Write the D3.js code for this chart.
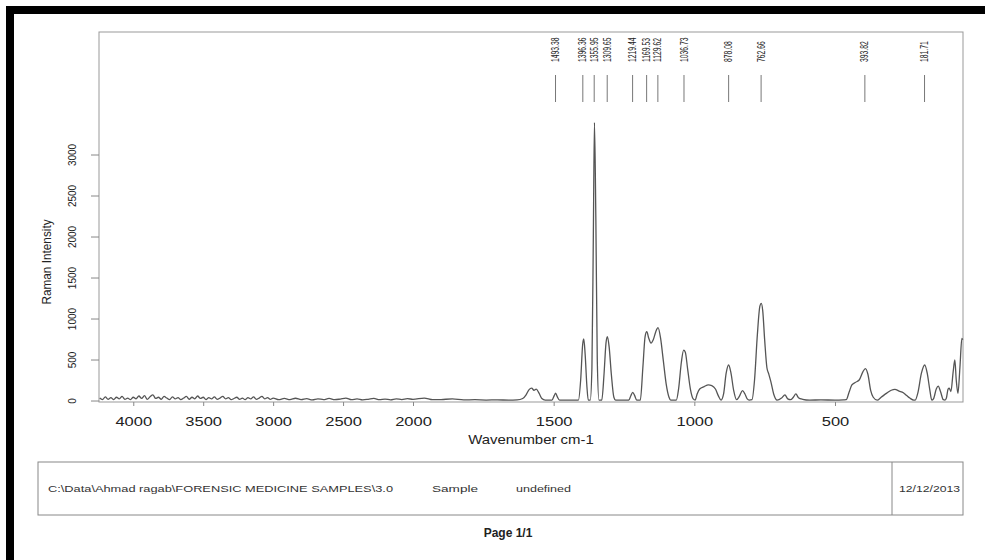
<!DOCTYPE html>
<html>
<head>
<meta charset="utf-8">
<script src="https://cdn.jsdelivr.net/npm/d3@7/dist/d3.min.js"></script>
<style>
  body { margin: 0; background: #fff; }
  text { font-family: "Liberation Sans", Arial, sans-serif; fill: #222; }
</style>
</head>
<body>
<script>
// spectrum: wavenumber (cm-1) and intensity
var wavenumber = [
  4240,4220,4200,4180,4160,4140,4120,4100,4080,4060,4040,4020,4000,3980,3960,3940,3920,3900,
  3880,3860,3840,3820,3800,3780,3760,3740,3720,3700,3680,3660,3640,3620,3600,3580,3560,3540,
  3520,3500,3480,3460,3440,3420,3400,3380,3360,3340,3320,3300,3280,3260,3240,3220,3200,3180,
  3160,3140,3120,3100,3080,3060,3040,3020,3000,2960,2920,2880,2840,2800,2760,2720,2680,2640,
  2600,2560,2520,2480,2440,2400,2360,2320,2280,2240,2200,2160,2120,2080,2040,2000,1960,1930,
  1900,1860,1820,1780,1740,1700,1660,1630,
  1610,1598,1588,1578,1570,1562,1552,1542,1530,1506,1498,1493,1487,1479,
  1412,1404,1397,1393,1388,1382,1377,1370,1364,1359,1355,1350,1345,1339,
  1329,1321,1314,1309,1303,1295,1286,1280,1233,1226,1219,1212,1205,
  1192,1183,1175,1169,1162,1154,1146,1137,1129,1120,1110,1100,1090,1084,
  1064,1056,1046,1038,1032,1024,1014,1004,997,990,981,965,950,938,925,915,905,
  896,887,878,870,860,850,840,829,820,812,805,
  795,786,776,767,762,757,750,742,736,728,718,706,
  690,678,668,658,648,639,630,615,590,550,500,470,
  460,450,440,428,414,401,392,383,373,364,350,
  336,316,300,287,272,257,245,234,220,
  215,205,193,181,172,163,156,150,140,133,125,115,109,
  104,98,94,88,80,74,69,63,56,49,46
];
var intensity = [
  30,10,45,15,35,10,40,20,50,15,30,10,40,20,55,25,60,15,
  45,70,25,40,15,50,30,10,45,20,35,10,30,50,15,40,20,55,
  25,40,10,35,20,45,15,30,50,20,35,10,25,40,15,30,10,35,
  20,45,15,30,50,20,35,15,30,10,25,12,28,10,22,8,20,12,
  25,10,18,30,10,20,8,15,25,10,18,8,20,12,22,15,30,10,
  12,20,8,10,6,8,5,8,
  25,70,130,150,125,140,90,25,5,5,60,90,45,5,
  5,250,680,750,560,180,5,5,400,2000,3390,2200,500,5,
  5,320,700,778,660,320,40,5,5,55,100,60,5,
  5,400,780,840,760,700,740,840,888,760,480,200,40,5,
  5,140,470,615,590,390,140,20,5,80,140,170,190,182,140,60,5,
  80,330,433,340,120,10,50,120,80,20,5,
  10,250,800,1150,1185,1100,740,400,330,230,80,5,
  30,70,20,10,40,80,35,15,5,8,5,8,
  10,100,190,220,250,350,390,320,120,40,5,
  40,90,125,135,115,95,60,30,5,
  5,100,330,433,330,130,5,20,140,175,110,10,5,
  30,140,150,110,350,494,250,88,400,758,740
];

var xTicks = [4000, 3500, 3000, 2500, 2000, 1500, 1000, 500];
var yTicks = [0, 500, 1000, 1500, 2000, 2500, 3000];
var peakLabels = ["1493.38", "1396.36", "1355.95", "1309.65", "1219.44", "1169.53",
                  "1129.62", "1036.73", "878.08", "762.66", "393.82", "181.71"];

var footerPath = "C:\\Data\\Ahmad ragab\\FORENSIC MEDICINE SAMPLES\\3.0";
var footerType = "Sample";
var footerName = "undefined";
var footerDate = "12/12/2013";
var pageText = "Page 1/1";

var W = 985, H = 560;
var box = {left: 99, right: 963, top: 32, bottom: 402};

var svg = d3.select("body").append("svg")
    .attr("width", W)
    .attr("height", H);

svg.append("rect").attr("width", W).attr("height", H).attr("fill", "#fff");

// black scan border (top and left)
svg.append("rect").attr("x", 6).attr("y", 6).attr("width", W - 6).attr("height", 8).attr("fill", "#000");
svg.append("rect").attr("x", 6).attr("y", 6).attr("width", 8).attr("height", H - 6).attr("fill", "#000");

// the software squeezes the range above 2000 cm-1 to half scale
var x = d3.scaleLinear()
    .domain([4245, 2000, 45])
    .range([box.left, 413, box.right]);

var y = d3.scaleLinear()
    .domain([-18, 4494])
    .range([box.bottom, box.top]);

var data = wavenumber.map(function(w, i) { return {w: w, v: intensity[i]}; });

// plot frame
svg.append("rect")
    .attr("x", box.left).attr("y", box.top)
    .attr("width", box.right - box.left).attr("height", box.bottom - box.top)
    .attr("fill", "none").attr("stroke", "#999").attr("stroke-width", 1);

// x axis
var xAxis = d3.axisBottom(x).tickValues(xTicks).tickSize(4).tickSizeOuter(0).tickFormat(d3.format("d"));
var gx = svg.append("g")
    .attr("transform", "translate(0," + box.bottom + ")")
    .call(xAxis);
gx.select(".domain").remove();
gx.selectAll(".tick line").attr("stroke", "#888");
gx.selectAll(".tick text")
    .attr("y", 0).attr("dy", null)
    .attr("transform", "translate(0,24) scale(1.27,1)")
    .style("font-size", "13px")
    .style("fill", "#222");

svg.append("text")
    .attr("x", (box.left + box.right) / 2)
    .attr("y", 444)
    .attr("text-anchor", "middle")
    .attr("transform", "translate(" + (-0.15 * 531) + ",0) scale(1.15,1)")
    .style("font-size", "13px")
    .text("Wavenumber cm-1");

// y axis
var yAxis = d3.axisLeft(y).tickValues(yTicks).tickSize(8).tickSizeOuter(0).tickFormat(d3.format("d"));
var gy = svg.append("g")
    .attr("transform", "translate(" + box.left + ",0)")
    .call(yAxis);
gy.select(".domain").remove();
gy.selectAll(".tick line").attr("stroke", "#888");
gy.selectAll(".tick text")
    .attr("x", null).attr("dy", null)
    .attr("text-anchor", "middle")
    .attr("transform", "translate(-23,0) scale(1.15,1) rotate(-90)")
    .style("font-size", "10px")
    .style("fill", "#222");

svg.append("text")
    .attr("transform", "translate(51,262) scale(1.1,1) rotate(-90)")
    .attr("text-anchor", "middle")
    .style("font-size", "11.8px")
    .text("Raman Intensity");

// spectrum
var line = d3.line()
    .x(function(d) { return x(d.w); })
    .y(function(d) { return y(d.v); })
    .curve(d3.curveMonotoneX);

svg.append("path")
    .datum(data)
    .attr("d", line)
    .attr("fill", "none")
    .attr("stroke", "#555")
    .attr("stroke-width", 1.3)
    .attr("stroke-linejoin", "round");

// peak markers
var peaks = svg.append("g").selectAll("g")
    .data(peakLabels)
  .enter().append("g")
    .attr("transform", function(d) { return "translate(" + x(+d) + ",0)"; });

peaks.append("line")
    .attr("y1", 75).attr("y2", 102)
    .attr("stroke", "#777").attr("stroke-width", 1);

peaks.append("text")
    .attr("transform", "translate(0,62) scale(1.5,1) rotate(-90)")
    .attr("dy", "0.35em")
    .style("font-size", "6.8px")
    .text(function(d) { return d; });

// footer box
svg.append("rect")
    .attr("x", 38).attr("y", 462).attr("width", 925).attr("height", 53)
    .attr("fill", "none").attr("stroke", "#888");
svg.append("line")
    .attr("x1", 892).attr("x2", 892).attr("y1", 462).attr("y2", 515)
    .attr("stroke", "#888");

var footer = [
  {t: footerPath, x: 48, len: 345},
  {t: footerType, x: 432, len: 46},
  {t: footerName, x: 516, len: 55},
  {t: footerDate, x: 899, len: 61}
];
svg.selectAll(".foot")
    .data(footer)
  .enter().append("text")
    .attr("class", "foot")
    .attr("x", function(d) { return d.x; })
    .attr("y", 492)
    .attr("textLength", function(d) { return d.len; })
    .attr("lengthAdjust", "spacingAndGlyphs")
    .style("font-size", "9.5px")
    .style("fill", "#333")
    .text(function(d) { return d.t; });

svg.append("text")
    .attr("x", 508).attr("y", 537)
    .attr("text-anchor", "middle")
    .style("font-size", "12px")
    .style("font-weight", "bold")
    .text(pageText);
</script>
</body>
</html>
